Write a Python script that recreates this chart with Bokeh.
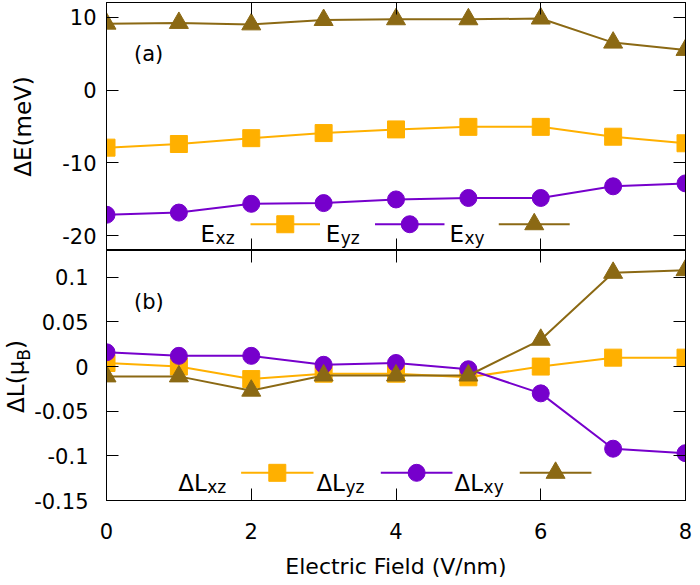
import math
from bokeh.plotting import figure
from bokeh.models import LinearAxis, Range1d, FixedTicker
from bokeh.layouts import column
from bokeh.embed import file_html
from bokeh.resources import INLINE
from bokeh.core.properties import value

# ---------------- data ----------------
field = [0, 1, 2, 3, 4, 5, 6, 7, 8]

e_xz = [-7.9, -7.4, -6.6, -5.9, -5.4, -5.05, -5.05, -6.4, -7.3]
e_yz = [-17.1, -16.8, -15.6, -15.5, -15.0, -14.8, -14.8, -13.2, -12.8]
e_xy = [9.1, 9.2, 9.0, 9.6, 9.7, 9.7, 9.8, 6.5, 5.5]

dl_xz = [0.004, 0.0, -0.014, -0.008, -0.008, -0.012, 0.0, 0.010, 0.010]
dl_yz = [0.016, 0.012, 0.012, 0.002, 0.004, -0.003, -0.030, -0.092, -0.097]
dl_xy = [-0.011, -0.011, -0.027, -0.010, -0.010, -0.010, 0.030, 0.105, 0.108]

x_ticks = [0, 2, 4, 6, 8]
x_tick_labels = ["0", "2", "4", "6", "8"]
e_ticks = [-20, -10, 0, 10]
e_tick_labels = ["-20", "-10", "0", "10"]
l_ticks = [-0.15, -0.1, -0.05, 0.0, 0.05, 0.1]
l_tick_labels = ["-0.15", "-0.1", "-0.05", "0", "0.05", "0.1"]

series_subs = ["xz", "yz", "xy"]
x_title = "Electric Field (V/nm)"
e_title = "ΔE(meV)"
l_title_main = "ΔL(μ"
l_title_sub = "B"
l_title_end = ")"

# ---------------- style ----------------
FONT = "DejaVu Sans"
ORANGE = "#FFB000"
PURPLE = "#7600CC"
BROWN = "#8B6914"
colors = [ORANGE, PURPLE, BROWN]
markers = ["square", "circle", "triangle"]
msize = [17, 17, 19]

W = 700
FRAME_LEFT = 101
RIGHT = 15


def style_axis(ax, ticks, labels=None, standoff=10):
    ax.ticker = FixedTicker(ticks=ticks)
    ax.major_tick_in = 12
    ax.major_tick_out = 0
    ax.minor_tick_line_color = None
    ax.axis_line_color = "black"
    ax.major_tick_line_color = "black"
    ax.major_label_text_font = FONT
    ax.major_label_text_color = "black"
    if labels is not None:
        ax.major_label_text_font_size = "21px"
        ax.major_label_standoff = standoff
        ax.major_label_overrides = {float(t): s for t, s in zip(ticks, labels)}
    else:
        ax.major_label_text_font_size = "0px"
        ax.major_label_standoff = 0
        ax.major_label_overrides = {float(t): "" for t in ticks}
    return ax


def text_axis(positions, texts, size, standoff):
    # an axis used only to place rotated title pieces beside the frame
    ax = LinearAxis(ticker=FixedTicker(ticks=positions))
    ax.major_label_overrides = {float(t): s for t, s in zip(positions, texts)}
    ax.major_label_orientation = "vertical"
    ax.major_label_text_font = FONT
    ax.major_label_text_font_size = f"{size}px"
    ax.major_label_text_color = "black"
    ax.major_label_standoff = standoff
    ax.major_tick_in = 0
    ax.major_tick_out = 0
    ax.major_tick_line_color = None
    ax.minor_tick_line_color = None
    ax.axis_line_color = None
    return ax


def make_fig(width, height, yr, border_top, border_bottom):
    p = figure(width=width, height=height, x_range=Range1d(0, 8), y_range=Range1d(*yr),
               output_backend="svg", toolbar_location=None,
               x_axis_location=None, y_axis_location=None,
               min_border_left=FRAME_LEFT, min_border_right=RIGHT,
               min_border_top=border_top, min_border_bottom=border_bottom)
    p.grid.visible = False
    p.outline_line_color = "black"
    p.outline_line_width = 1
    p.background_fill_color = "white"
    p.border_fill_color = "white"
    return p


# ---------------- top panel ----------------
top = make_fig(W, 250, (-22, 12), 2, 0)

ax = style_axis(LinearAxis(), e_ticks, e_tick_labels, 10)
ax.axis_label = e_title
ax.axis_label_text_font = FONT
ax.axis_label_text_font_size = "23px"
ax.axis_label_text_font_style = "normal"
ax.axis_label_text_color = "black"
ax.axis_label_standoff = 23
top.add_layout(ax, "left")
top.add_layout(style_axis(LinearAxis(), e_ticks), "right")
top.add_layout(style_axis(LinearAxis(), x_ticks), "above")
top.add_layout(style_axis(LinearAxis(), x_ticks), "below")

for ys, c, m, s in zip([e_xz, e_yz, e_xy], colors, markers, msize):
    top.line(field, ys, line_color=c, line_width=2)
    top.scatter(field, ys, marker=m, size=s, fill_color=c, line_color=c)

# legend (a)
leg_a_text_x = [1.30, 3.03, 4.74]
leg_a_sample = [(1.99, 2.95), (3.71, 4.67), (5.42, 6.40)]
leg_a_y = -18.4
leg_a_base = -19.75
for tx, (x0, x1), c, m, s, sub in zip(leg_a_text_x, leg_a_sample, colors, markers, msize, series_subs):
    top.text(x=[tx], y=[leg_a_base], text=["E"], text_font=value(FONT), text_font_size="23px",
             text_baseline="alphabetic", text_align="left", text_color="black")
    top.text(x=[tx], y=[leg_a_base], text=[sub], text_font=value(FONT), text_font_size="17px",
             text_baseline="alphabetic", text_align="left", text_color="black",
             x_offset=15, y_offset=4)
    top.line([x0, x1], [leg_a_y, leg_a_y], line_color=c, line_width=2)
    top.scatter([(x0 + x1) / 2], [leg_a_y], marker=m, size=s, fill_color=c, line_color=c)

top.text(x=[0.38], y=[4.9], text=["(a)"], text_font=value(FONT), text_font_size="21px",
         text_baseline="middle", text_align="left", text_color="black")

# ---------------- bottom panel ----------------
BOT_H = 335
bot = make_fig(W, BOT_H, (-0.15, 0.13), 0, 85)

bot.add_layout(style_axis(LinearAxis(), l_ticks, l_tick_labels, 18), "left")
bot.add_layout(style_axis(LinearAxis(), l_ticks), "right")
bot.add_layout(style_axis(LinearAxis(), x_ticks), "above")
ax = style_axis(LinearAxis(), x_ticks, x_tick_labels, 22)
ax.axis_label = x_title
ax.axis_label_text_font = FONT
ax.axis_label_text_font_size = "22px"
ax.axis_label_text_font_style = "normal"
ax.axis_label_text_color = "black"
ax.axis_label_standoff = 12
bot.add_layout(ax, "below")

# rotated y title "ΔL(μ_B)" placed piece by piece (positions along the axis in data units)
px_per_unit = 250 / 0.28
fs_main, fs_sub = 23, 17
w1 = (0.684 + 0.557 + 0.390 + 0.636) * fs_main
wB = 0.686 * fs_sub
w3 = 0.390 * fs_main
total = w1 + wB + w3
title_center = -0.0111
c_main = title_center + (-total / 2 + w1 / 2) / px_per_unit
c_sub = title_center + (-total / 2 + w1 + wB / 2) / px_per_unit
c_end = title_center + (-total / 2 + w1 + wB + w3 / 2) / px_per_unit
bot.add_layout(text_axis([c_sub], [l_title_sub], fs_sub, -3), "left")
bot.add_layout(text_axis([c_main, c_end], [l_title_main, l_title_end], fs_main, -18), "left")

for ys, c, m, s in zip([dl_xz, dl_yz, dl_xy], colors, markers, msize):
    bot.line(field, ys, line_color=c, line_width=2)
    bot.scatter(field, ys, marker=m, size=s, fill_color=c, line_color=c)

leg_b_text_x = [0.99, 2.90, 4.81]
leg_b_sample = [(1.86, 2.86), (3.79, 4.78), (5.71, 6.70)]
leg_b_y = -0.119
leg_b_base = -0.1305
for tx, (x0, x1), c, m, s, sub in zip(leg_b_text_x, leg_b_sample, colors, markers, msize, series_subs):
    bot.text(x=[tx], y=[leg_b_base], text=["ΔL"], text_font=value(FONT), text_font_size="23px",
             text_baseline="alphabetic", text_align="left", text_color="black")
    bot.text(x=[tx], y=[leg_b_base], text=[sub], text_font=value(FONT), text_font_size="17px",
             text_baseline="alphabetic", text_align="left", text_color="black",
             x_offset=29, y_offset=4)
    bot.line([x0, x1], [leg_b_y, leg_b_y], line_color=c, line_width=2)
    bot.scatter([(x0 + x1) / 2], [leg_b_y], marker=m, size=s, fill_color=c, line_color=c)

bot.text(x=[0.38], y=[0.072], text=["(b)"], text_font=value(FONT), text_font_size="21px",
         text_baseline="middle", text_align="left", text_color="black")

layout = column(top, bot, spacing=0)
open("out.html", "w").write(file_html(layout, INLINE))
